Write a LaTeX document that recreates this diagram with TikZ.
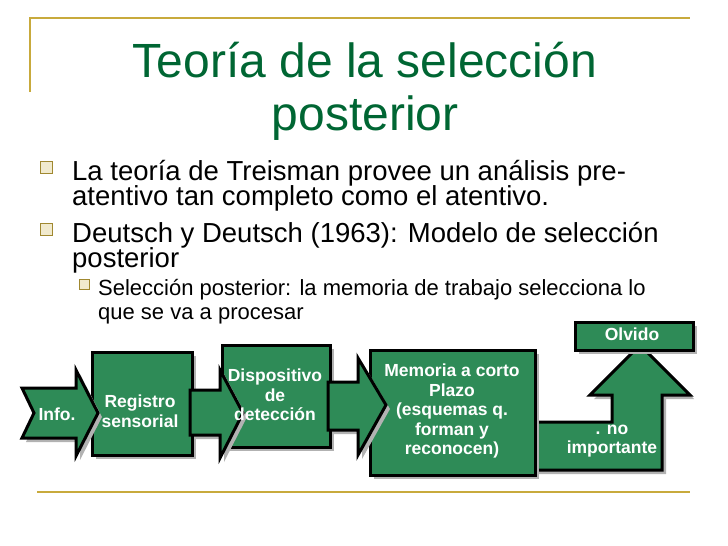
\documentclass[tikz,border=0pt]{standalone}
\usepackage{fontspec}
\setmainfont{Liberation Sans}
\usetikzlibrary{shadows}
\definecolor{titlegreen}{RGB}{0,102,51}
\definecolor{boxgreen}{RGB}{46,139,87}
\definecolor{gold}{RGB}{200,170,60}
\tikzstyle{block}=[fill=boxgreen,draw=black,line width=3pt,drop shadow={shadow xshift=4pt,shadow yshift=-4pt,fill=gray!60,opacity=1}]
\tikzstyle{label}=[text=white,font=\bfseries\fontsize{17.5}{19.5}\selectfont,align=center]
\tikzstyle{bulletbox}=[draw=gold!80!black,fill=gold!25,line width=1pt]
\tikzstyle{bodytext}=[anchor=base west,inner sep=0pt]
\begin{document}
\begin{tikzpicture}[x=1pt,y=-1pt]
\useasboundingbox (0,0) rectangle (728,546);

% frame lines
\draw[gold,line width=1.5pt] (30,92) -- (30,18) -- (690,18);
\draw[gold,line width=1.5pt] (37,492) -- (690,492);

% title
\node[text=titlegreen,font=\fontsize{48}{53}\selectfont,align=center] (title) at (365,91)
  {Teoría de la selección\\posterior};

% bullets
\foreach \yy in {180,242} \draw[bulletbox] (40,\yy-19) rectangle (52,\yy-7);
\draw[bulletbox,line width=0.8pt] (79,279) rectangle (89,289);
\begin{scope}[font=\fontsize{27.5}{30}\selectfont]
\node[bodytext] (b1a) at (72,180) {La teoría de Treisman provee un análisis pre-};
\node[bodytext] (b1b) at (72,205) {atentivo tan completo como el atentivo.};
\node[bodytext] (b2a) at (72,242) {Deutsch y Deutsch (1963): Modelo de selección};
\node[bodytext] (b2b) at (72,267) {posterior};
\end{scope}
\begin{scope}[font=\fontsize{22}{24}\selectfont]
\node[bodytext] (s1a) at (98,295) {Selección posterior: la memoria de trabajo selecciona lo};
\node[bodytext] (s1b) at (98,319) {que se va a procesar};
\end{scope}

% boxes and arrows
\draw[block] (535,422) -- (612,422) -- (612,395) -- (590,395) -- (640,345)
  -- (690,395) -- (662,395) -- (662,470) -- (535,470);
\draw[block] (92,352) rectangle (192,455);
\draw[block] (222,345) rectangle (330,447);
\draw[block] (370,350) rectangle (535,475);
\draw[block] (575,322) rectangle (693,350);
\draw[block] (22,388) -- (76,388) -- (76,370) -- (98,413) -- (76,456) -- (76,438)
  -- (22,438) -- (34,413) -- cycle;
\draw[block] (190,390) -- (220,390) -- (220,370) -- (243,413) -- (220,458)
  -- (220,435) -- (190,435) -- cycle;
\draw[block] (328,382) -- (358,382) -- (358,358) -- (386,405) -- (358,455)
  -- (358,430) -- (328,430) -- cycle;

% texts
\node[label] (info) at (57,414) {Info.};
\node[label] (registro) at (140,411) {Registro\\sensorial};
\node[label] (disp) at (275,395) {Dispositivo\\de\\detección};
\node[label] (memoria) at (452,411) {Memoria a corto\\Plazo\\(esquemas q.\\forman y\\reconocen)};
\node[label] (olvido) at (632,334) {Olvido};
\node[label] (noimp) at (612,441) {. no\\importante};
\end{tikzpicture}
\end{document}
